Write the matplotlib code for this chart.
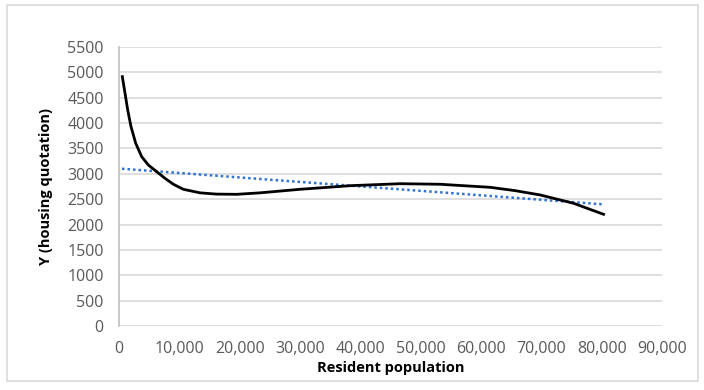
import matplotlib
matplotlib.use("Agg")
from matplotlib import pyplot as plt
from matplotlib.patches import Rectangle
from matplotlib.ticker import FuncFormatter

# values
population = [550, 1000, 1440, 1990, 2770, 3760, 4860, 6250, 7630, 9010, 10660,
              13430, 16200, 19520, 23380, 30020, 38310, 46600, 53230, 61530,
              65670, 69820, 75340, 80310]
quotation = [4916, 4588, 4259, 3930, 3602, 3338, 3174, 3042, 2911, 2794, 2695,
             2625, 2600, 2596, 2625, 2695, 2766, 2805, 2794, 2734,
             2668, 2583, 2419, 2202]

trend_x = [500, 80000]
trend_y = [3100, 2400]

x_ticks = [0, 10000, 20000, 30000, 40000, 50000, 60000, 70000, 80000, 90000]
y_ticks = [0, 500, 1000, 1500, 2000, 2500, 3000, 3500, 4000, 4500, 5000, 5500]

plt.rcParams['font.family'] = ['Open Sans', 'DejaVu Sans']

fig = plt.figure(figsize=(7.04, 3.90), dpi=100)
ax = fig.add_axes([119 / 704, 1 - 326 / 390, (662 - 119) / 704, (326 - 47) / 390])

# outer chart border
fig.patches.append(Rectangle((7 / 704, 1 - 381 / 390), 691 / 704, 376 / 390,
                             transform=fig.transFigure, fill=False,
                             edgecolor='#d9d9d9', linewidth=1.2))

ax.plot(population, quotation, color='black', linewidth=2.0,
        solid_joinstyle='round', zorder=3)
ax.plot(trend_x, trend_y, color='#2f72d0', linewidth=1.8, linestyle=(0, (1, 1.2)), zorder=2)

ax.set_xlim(0, 90000)
ax.set_ylim(0, 5500)
ax.set_xticks(x_ticks)
ax.set_yticks(y_ticks)
ax.xaxis.set_major_formatter(FuncFormatter(lambda v, p: f'{int(v):,}'))
ax.tick_params(length=0, labelsize=11.5, colors='#595959')
ax.tick_params(axis='y', pad=11)
ax.tick_params(axis='x', pad=11)

ax.grid(axis='y', color='#d9d9d9', linewidth=1.2)
ax.set_axisbelow(True)
for s in ['top', 'right', 'bottom']:
    ax.spines[s].set_visible(False)
ax.spines['left'].set_color('#bfbfbf')
ax.spines['left'].set_linewidth(1.2)

ax.set_xlabel('Resident population', fontsize=10.5, fontweight='bold', color='black', labelpad=3)
ax.set_ylabel('Y (housing quotation)', fontsize=10.5, fontweight='bold', color='black', labelpad=10)

fig.savefig('out.png', dpi=100)
